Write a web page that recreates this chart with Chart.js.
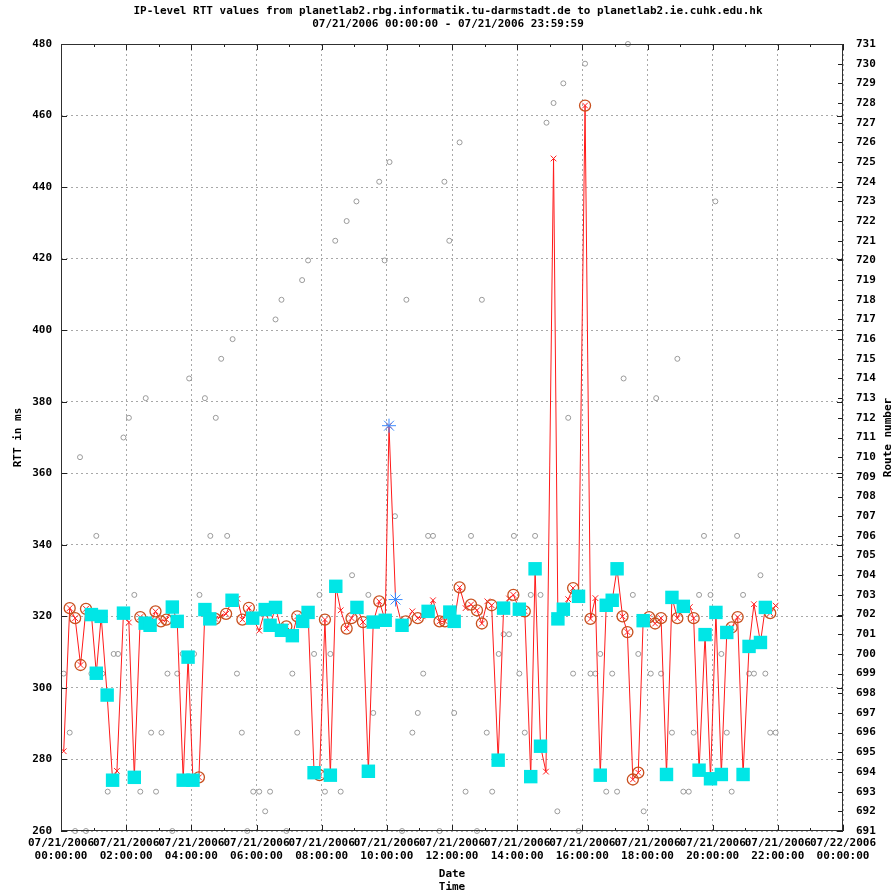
<!DOCTYPE html>
<html>
<head>
<meta charset="utf-8">
<title>IP-level RTT values</title>
<script src="https://cdn.jsdelivr.net/npm/chart.js@4.4.1/dist/chart.umd.min.js"></script>
<style>
  html, body { margin: 0; padding: 0; background: #fff; }
  #wrap { width: 896px; height: 895px; }
</style>
</head>
<body>
<div id="wrap"><canvas id="rttChart" width="896" height="895"></canvas></div>
<script>
// --- data (time = minutes after 07/21/2006 00:00:00) ---
const rttTime = [
  5, 16, 26, 36, 46, 56, 65, 74, 85, 95,
  103, 115, 125, 135, 146, 155, 164, 174, 184, 194,
  205, 214, 225, 234, 243, 254, 265, 274, 284, 294,
  304, 315, 325, 334, 346, 353, 365, 376, 385, 395,
  406, 415, 426, 435, 445, 455, 466, 476, 486, 496,
  506, 515, 526, 535, 545, 556, 566, 575, 586, 597,
  604, 616, 628, 635, 647, 657, 666, 676, 685, 697,
  707, 716, 724, 734, 745, 755, 766, 775, 785, 793,
  805, 815, 825, 833, 844, 854, 865, 873, 883, 893,
  907, 915, 925, 934, 943, 953, 965, 975, 984, 993,
  1004, 1015, 1024, 1034, 1043, 1053, 1063, 1072, 1083, 1094,
  1105, 1115, 1125, 1135, 1146, 1158, 1165, 1175, 1186, 1196,
  1206, 1216, 1226, 1235, 1246, 1256, 1267, 1276, 1288, 1297,
  1306, 1316
];
const rttValue = [
  282.3, 322.3, 319.5, 306.4, 322.1, 320.5, 304.1, 320, 298, 274.2,
  276.8, 320.9, 318.3, 275, 319.8, 318.1, 317.5, 321.4, 318.6, 319.1,
  322.6, 318.6, 274.2, 308.6, 274.2, 275, 321.9, 319.3, 319.3, 320,
  320.7, 324.5, 324.9, 319.1, 322.4, 319.5, 316, 321.9, 317.5, 322.5,
  316.1, 317.2, 314.6, 320, 318.6, 321.1, 276.3, 275.6, 319.1, 275.6,
  328.4, 321.7, 316.6, 319.5, 322.5, 318.4, 276.7, 318.4, 324.2, 318.9,
  373.3, 324.7, 317.5, 318.6, 321.4, 319.5, 320, 321.4, 324.5, 318.6,
  318.6, 321.2, 318.6, 328.1, 322.3, 323.3, 321.7, 318, 324.2, 323.1,
  279.8, 322.3, 325, 326, 322, 321.4, 275.2, 333.3, 283.7, 276.6,
  448, 319.3, 322, 324.8, 327.9, 325.6, 462.8, 319.3, 325.1, 275.6,
  323.1, 324.5, 333.3, 320, 315.6, 274.4, 276.3, 318.8, 319.8, 318,
  319.5, 275.8, 325.3, 319.5, 322.8, 322.6, 319.5, 277, 314.9, 274.6,
  321.1, 275.8, 315.5, 316.9, 319.8, 275.8, 311.6, 323.4, 312.7, 322.5,
  320.9, 323
];
// x = plain sample, c = circled, s = square, * = star
const rttKind = [
  "x","c","c","c","c","s","s","s","s","s",
  "x","s","x","s","c","s","s","c","c","c",
  "s","s","s","s","s","c","s","s","c","x",
  "c","s","x","c","c","s","x","s","s","s",
  "s","c","s","c","s","s","s","c","c","s",
  "s","x","c","c","s","c","s","s","c","s",
  "*","*","s","c","x","c","x","s","x","c",
  "c","s","s","c","x","c","c","c","x","c",
  "s","s","x","c","s","c","s","s","s","x",
  "x","s","s","x","c","s","c","c","x","s",
  "s","s","s","c","c","c","c","s","c","c",
  "c","s","s","c","s","x","c","s","s","s",
  "s","s","s","c","c","s","s","x","s","s",
  "c","x"
];

const routeTime = [
  5, 16, 26, 35, 46, 56, 65, 76, 86, 97,
  105, 115, 125, 135, 146, 156, 166, 175, 185, 196,
  205, 214, 224, 236, 245, 255, 265, 275, 285, 295,
  306, 316, 324, 333, 343, 354, 365, 376, 385, 395,
  406, 415, 426, 435, 444, 455, 466, 476, 486, 496,
  505, 515, 526, 536, 544, 566, 575, 586, 596, 605,
  615, 628, 636, 647, 657, 667, 676, 685, 697, 706,
  715, 724, 734, 745, 755, 766, 775, 784, 794, 806,
  815, 825, 834, 844, 854, 865, 873, 883, 894, 907,
  914, 925, 934, 943, 953, 965, 975, 984, 993, 1004,
  1015, 1024, 1036, 1044, 1053, 1063, 1073, 1086, 1096, 1105,
  1125, 1135, 1146, 1156, 1165, 1175, 1184, 1196, 1205, 1216,
  1226, 1235, 1245, 1256, 1267, 1276, 1288, 1297, 1306, 1316
];
const routeValue = [
  699, 696, 691, 710, 691, 699, 706, 699, 693, 700,
  700, 711, 712, 703, 693, 713, 696, 693, 696, 699,
  691, 699, 700, 714, 700, 703, 713, 706, 712, 715,
  706, 716, 699, 696, 691, 693, 693, 692, 693, 717,
  718, 691, 699, 696, 719, 720, 700, 703, 693, 700,
  721, 693, 722, 704, 723, 703, 697, 724, 720, 725,
  707, 691, 718, 696, 697, 699, 706, 706, 691, 724,
  721, 697, 726, 693, 706, 691, 718, 696, 693, 700,
  701, 701, 706, 699, 696, 703, 706, 703, 727, 728,
  692, 729, 712, 699, 691, 730, 699, 699, 700, 693,
  699, 693, 714, 731, 703, 700, 692, 699, 713, 699,
  696, 715, 693, 693, 696, 703, 706, 703, 723, 700,
  696, 693, 706, 703, 699, 699, 704, 699, 696, 696
];

const xTickLabels = [
  ["07/21/2006", "00:00:00"], ["07/21/2006", "02:00:00"], ["07/21/2006", "04:00:00"],
  ["07/21/2006", "06:00:00"], ["07/21/2006", "08:00:00"], ["07/21/2006", "10:00:00"],
  ["07/21/2006", "12:00:00"], ["07/21/2006", "14:00:00"], ["07/21/2006", "16:00:00"],
  ["07/21/2006", "18:00:00"], ["07/21/2006", "20:00:00"], ["07/21/2006", "22:00:00"],
  ["07/22/2006", "00:00:00"]
];

// --- build point lists ---
const rttPoints = rttTime.map((t, i) => ({ x: t, y: rttValue[i] }));
const pick = (k) => rttPoints.filter((p, i) => rttKind[i] === k);
const routePoints = routeTime.map((t, i) => ({ x: t, y: routeValue[i] }));

Chart.defaults.font.family = "'DejaVu Sans Mono', 'Liberation Mono', monospace";
Chart.defaults.font.size = 11;
Chart.defaults.font.weight = "bold";
Chart.defaults.color = "#000";

// inward tick marks, frame and right axis title (gnuplot style)
const gnuFrame = {
  id: "gnuFrame",
  afterDatasetsDraw(chart) {
    const { ctx, chartArea: a, scales } = chart;
    ctx.save();
    ctx.strokeStyle = "#202020";
    ctx.lineWidth = 1;
    ctx.beginPath();
    scales.x.ticks.forEach((t) => {
      const px = Math.round(scales.x.getPixelForValue(t.value)) + 0.5;
      const len = t.value % 120 === 0 ? 6 : 3;
      ctx.moveTo(px, a.bottom); ctx.lineTo(px, a.bottom - len);
      ctx.moveTo(px, a.top); ctx.lineTo(px, a.top + len);
    });
    scales.y.ticks.forEach((t) => {
      const py = Math.round(scales.y.getPixelForValue(t.value)) + 0.5;
      ctx.moveTo(a.left, py); ctx.lineTo(a.left + 6, py);
      ctx.moveTo(a.right, py); ctx.lineTo(a.right - 6, py);
    });
    scales.y2.ticks.forEach((t) => {
      const py = Math.round(scales.y2.getPixelForValue(t.value)) + 0.5;
      ctx.moveTo(a.right, py); ctx.lineTo(a.right - 5, py);
    });
    ctx.stroke();
    ctx.strokeStyle = "#303030";
    ctx.strokeRect(Math.round(a.left) + 0.5, Math.round(a.top) + 0.5,
      Math.round(a.width) - 1, Math.round(a.height) - 1);
    ctx.restore();
  },
  afterDraw(chart) {
    const { ctx, chartArea: a } = chart;
    ctx.save();
    ctx.font = "bold 11px 'DejaVu Sans Mono', 'Liberation Mono', monospace";
    ctx.fillStyle = "#000";
    ctx.textAlign = "center";
    ctx.textBaseline = "middle";
    ctx.translate(888, (a.top + a.bottom) / 2);
    ctx.rotate(-Math.PI / 2);
    ctx.fillText("Route number", 0, 0);
    ctx.restore();
  }
};

new Chart(document.getElementById("rttChart"), {
  type: "scatter",
  data: {
    datasets: [
      {
        label: "Route number",
        data: routePoints,
        yAxisID: "y2",
        pointStyle: "circle",
        pointRadius: 2.5,
        borderColor: "#9a9a9a",
        backgroundColor: "rgba(0,0,0,0)",
        borderWidth: 1,
        clip: false,
        order: 5
      },
      {
        label: "RTT",
        data: rttPoints,
        yAxisID: "y",
        showLine: true,
        borderColor: "#ff1a1a",
        borderWidth: 1,
        pointStyle: "crossRot",
        pointRadius: 4,
        pointBorderColor: "#ff2020",
        pointBackgroundColor: "#ff2020",
        pointBorderWidth: 1,
        tension: 0,
        order: 4
      },
      {
        label: "circled",
        data: pick("c"),
        yAxisID: "y",
        pointStyle: "circle",
        pointRadius: 5.5,
        borderColor: "#c8501e",
        backgroundColor: "rgba(0,0,0,0)",
        borderWidth: 1.3,
        order: 3
      },
      {
        label: "square",
        data: pick("s"),
        yAxisID: "y",
        pointStyle: "rect",
        pointRadius: 9.5,
        borderColor: "#00e6e6",
        backgroundColor: "#00e6e6",
        borderWidth: 0,
        order: 2
      },
      {
        label: "star",
        data: pick("*"),
        yAxisID: "y",
        pointStyle: "star",
        pointRadius: 7,
        borderColor: "#3a8cff",
        backgroundColor: "#3a8cff",
        borderWidth: 1,
        order: 1
      }
    ]
  },
  options: {
    responsive: false,
    animation: false,
    events: [],
    layout: { padding: { left: 0, right: 0, top: 0, bottom: 0 } },
    plugins: {
      legend: { display: false },
      tooltip: { enabled: false },
      title: {
        display: true,
        text: [
          "IP-level RTT values from planetlab2.rbg.informatik.tu-darmstadt.de to planetlab2.ie.cuhk.edu.hk",
          "07/21/2006 00:00:00 - 07/21/2006 23:59:59"
        ],
        font: { size: 11, weight: "bold", lineHeight: 1.15 },
        padding: { top: 5, bottom: 13.7 }
      }
    },
    scales: {
      x: {
        type: "linear",
        min: 0,
        max: 1440,
        afterFit: (s) => { s.height = 64; },
        ticks: {
          stepSize: 60,
          autoSkip: false,
          maxRotation: 0,
          minRotation: 0,
          padding: 5.5,
          font: { lineHeight: 1.18 },
          callback: (v) => (v % 120 === 0 ? xTickLabels[v / 120] : "")
        },
        grid: {
          drawTicks: false,
          color: (c) => (c.tick && c.tick.value % 120 === 0 ? "#a8a8a8" : "rgba(0,0,0,0)")
        },
        border: { display: false, dash: [2, 3] },
        title: {
          display: true,
          text: ["Date", "Time"],
          font: { size: 11, weight: "bold", lineHeight: 1.18 },
          padding: { top: 0, bottom: 1.5 }
        }
      },
      y: {
        position: "left",
        min: 260,
        max: 480,
        afterFit: (s) => { s.width = 61; },
        ticks: { stepSize: 20, padding: 9 },
        grid: { drawTicks: false, color: "#a8a8a8" },
        border: { display: false, dash: [2, 3] },
        title: {
          display: true,
          text: "RTT in ms",
          font: { size: 11, weight: "bold" },
          padding: { top: 11.5, bottom: 0 }
        }
      },
      y2: {
        position: "right",
        min: 691,
        max: 731,
        afterFit: (s) => { s.width = 53; },
        ticks: { stepSize: 1, autoSkip: false, padding: 13 },
        grid: { drawTicks: false, drawOnChartArea: false },
        border: { display: false }
      }
    }
  },
  plugins: [gnuFrame]
});
</script>
</body>
</html>
